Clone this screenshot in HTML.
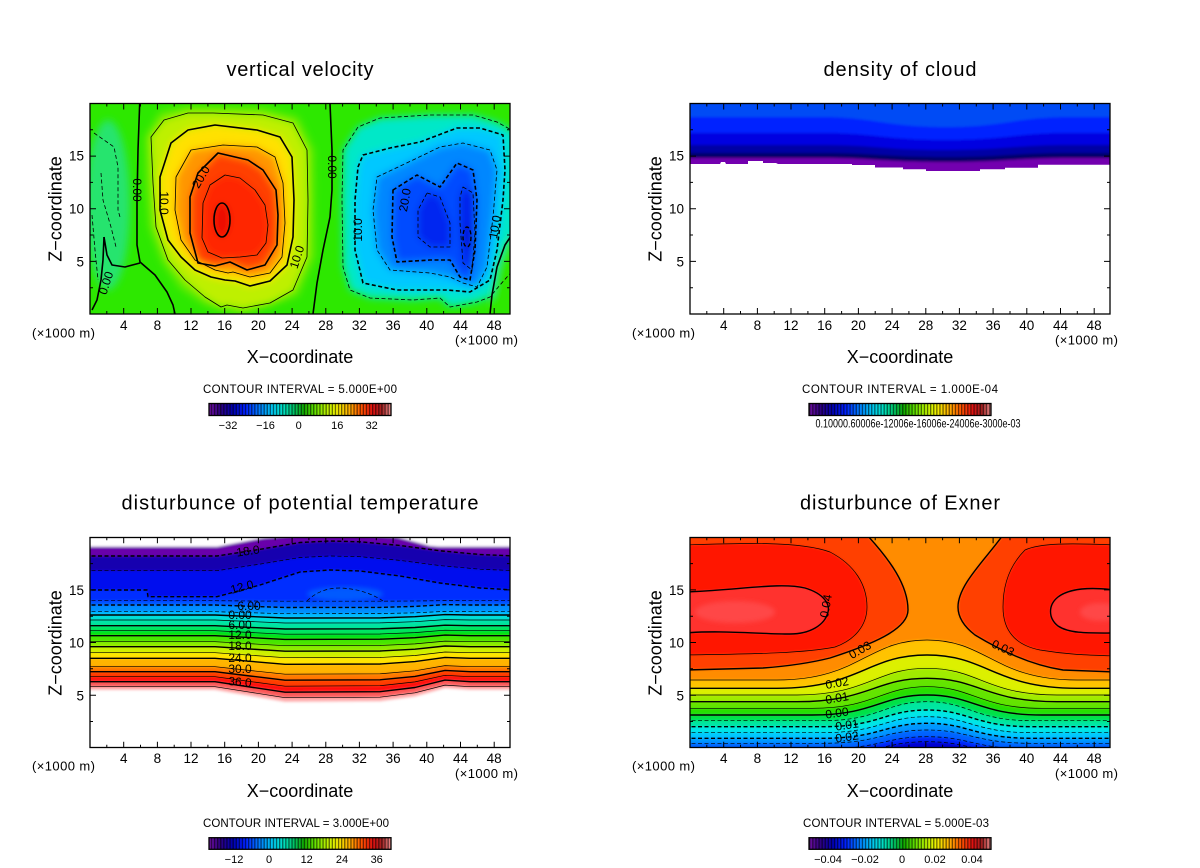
<!DOCTYPE html>
<html><head><meta charset="utf-8"><style>
html,body{margin:0;padding:0;background:#fff;}
svg{display:block;}
text{font-family:"Liberation Sans",sans-serif;fill:#000;}
.t{font-size:20px;text-anchor:middle;}
.ax{font-size:18px;text-anchor:middle;}
.tk{font-size:13.5px;text-anchor:middle;}
.ty{font-size:13.5px;text-anchor:end;}
.u{font-size:13px;}
.ci{font-size:11.5px;text-anchor:middle;}
.cb{font-size:11px;text-anchor:middle;}
.lb{font-size:12px;text-anchor:middle;}
</style></head><body>
<svg width="1200" height="868" viewBox="0 0 1200 868" xmlns="http://www.w3.org/2000/svg">
<defs>
<clipPath id="c1"><rect x="90" y="103.5" width="420" height="210.5"/></clipPath>
<clipPath id="c2"><rect x="690" y="103.5" width="420" height="210.5"/></clipPath>
<clipPath id="c3"><rect x="90" y="537.5" width="420" height="210"/></clipPath>
<clipPath id="c4"><rect x="690" y="537.5" width="420" height="210"/></clipPath>
<clipPath id="cc"><path d="M690,100 L1110,100 L1110,164.7 L1038,164.7 L1038,167.7 L1005,167.7 L1005,169.3 L980,169.3 L980,171 L926,171 L926,169.3 L903,169.3 L903,167.5 L875,167.5 L875,165 L852,165 L852,164 L778,164 L776,163 L763,163 L763,161 L748,161 L748,164 L726,164 L725,162 L721,162 L720,164 L690,164 Z"/></clipPath>
<filter id="b1" x="-20%" y="-20%" width="140%" height="140%"><feGaussianBlur stdDeviation="2.5"/></filter>
<filter id="b3" x="-20%" y="-20%" width="140%" height="140%"><feGaussianBlur stdDeviation="4"/></filter>
<filter id="b2" x="-5%" y="-5%" width="110%" height="110%"><feGaussianBlur stdDeviation="1.2"/></filter>
<linearGradient id="cbg" x1="0" y1="0" x2="1" y2="0">
<stop offset="0" stop-color="#7010a0"/><stop offset="0.06" stop-color="#300080"/><stop offset="0.13" stop-color="#0000b0"/><stop offset="0.2" stop-color="#0020ff"/><stop offset="0.28" stop-color="#0080ff"/><stop offset="0.35" stop-color="#00c8f0"/><stop offset="0.41" stop-color="#00e0c0"/><stop offset="0.47" stop-color="#00c060"/><stop offset="0.52" stop-color="#10a800"/><stop offset="0.58" stop-color="#60e000"/><stop offset="0.64" stop-color="#b0f000"/><stop offset="0.7" stop-color="#f0f000"/><stop offset="0.77" stop-color="#ffb000"/><stop offset="0.84" stop-color="#ff5000"/><stop offset="0.9" stop-color="#e01010"/><stop offset="0.95" stop-color="#a02020"/><stop offset="1" stop-color="#f09090"/>
</linearGradient>
<pattern id="str" width="3.1" height="20" patternUnits="userSpaceOnUse"><rect x="0" y="0" width="1.3" height="20" fill="#000" fill-opacity="0.55"/></pattern>
<g id="tk" fill="none" stroke="#000" stroke-width="1">
<path d="M33.7 210.5v-6M67.4 210.5v-6M101 210.5v-6M134.7 210.5v-6M168.4 210.5v-6M202.1 210.5v-6M235.8 210.5v-6M269.4 210.5v-6M303.1 210.5v-6M336.8 210.5v-6M370.5 210.5v-6M404.2 210.5v-6M16.8 210.5v-3M50.5 210.5v-3M84.2 210.5v-3M117.9 210.5v-3M151.6 210.5v-3M185.2 210.5v-3M218.9 210.5v-3M252.6 210.5v-3M286.3 210.5v-3M320 210.5v-3M353.6 210.5v-3M387.3 210.5v-3M33.7 0v6M67.4 0v6M101 0v6M134.7 0v6M168.4 0v6M202.1 0v6M235.8 0v6M269.4 0v6M303.1 0v6M336.8 0v6M370.5 0v6M404.2 0v6M16.8 0v3M50.5 0v3M84.2 0v3M117.9 0v3M151.6 0v3M185.2 0v3M218.9 0v3M252.6 0v3M286.3 0v3M320 0v3M353.6 0v3M387.3 0v3M0 157.9h6M0 105.2h6M0 52.6h6M0 184.2h3M0 131.5h3M0 78.9h3M0 26.3h3M420 157.9h-6M420 105.2h-6M420 52.6h-6M420 184.2h-3M420 131.5h-3M420 78.9h-3M420 26.3h-3"/>
</g>
<path id="W2" d="M160,112 L188,106 L263,108 L298,117 L314,150 L315,257 L298,296 L243,314 L205,305 L180,288 L162,262 L149,227 L146,183 L145,137 Z"/>
<path id="W5" d="M164,120 L188,113 L213,113 L263,115 L293,123 L307,150 L308,200 L307,257 L293,290 L270,303 L243,308 L227,305 L221,307 L205,297 L185,280 L168,260 L156,227 L153,183 L151,137 Z"/>
<path id="W10" d="M188,130 L215,125 L257,130 L280,137 L292,157 L294,200 L293,237 L287,265 L270,281 L250,286 L235,281 L225,280 L211,277 L195,270 L181,257 L168,240 L160,210 L160,177 L171,143 Z"/>
<path id="W15" d="M191,150 L223,145 L257,147 L275,157 L283,183 L285,223 L282,257 L270,273 L250,277 L233,272 L228,273 L215,270 L195,260 L181,240 L175,210 L176,177 Z"/>
<path id="W20" d="M218,153 L248,160 L263,170 L276,190 L278,215 L277,245 L265,265 L247,270 L230,262 L215,266 L198,263 L190,233 L190,197 L198,173 Z"/>
<path id="W25" d="M225,175 L240,178 L255,190 L265,205 L268,225 L266,243 L257,255 L240,257 L222,258 L208,252 L202,238 L203,203 L210,185 Z"/>
<path id="C5" d="M515,132 L497,122 L473,115 L430,115 L380,118 L358,127 L343,150 L342,200 L343,267 L350,290 L370,298 L413,300 L440,298 L450,307 L477,302 L490,297 L500,285 L515,268 L520,268 L520,132 Z"/>
<path id="C10" d="M363,155 L390,148 L420,142 L457,128 L480,128 L503,135 L505,170 L503,200 L497,250 L490,280 L470,292 L447,290 L397,290 L363,283 L355,250 L355,200 L358,167 Z"/>
<path id="C15" d="M377,177 L413,160 L440,147 L463,143 L490,150 L497,170 L493,217 L487,267 L477,287 L463,283 L450,277 L430,273 L390,270 L377,250 L373,210 Z"/>
<path id="C20" d="M393,190 L417,175 L440,187 L457,163 L473,170 L477,200 L475,250 L470,280 L460,277 L450,260 L430,260 L397,262 L392,237 Z"/>
<path id="C25a" d="M427,193 L440,197 L450,223 L450,247 L430,247 L418,237 L418,210 Z"/>
<path id="C25b" d="M463,187 L473,193 L475,233 L472,270 L463,263 L460,223 L460,197 Z"/>
<path id="k1" d="M685,117 L820,117 C875,117 885,127 945,127 C1005,127 1015,117 1070,117 L1115,117 L1115,95 L685,95 Z"/>
<path id="k2" d="M685,133 L820,133 C875,133 885,140 945,140 C1005,140 1015,133 1070,133 L1115,133 L1115,95 L685,95 Z"/>
<path id="k3" d="M685,145 L820,145 C875,145 885,150 945,150 C1005,150 1015,145 1070,145 L1115,145 L1115,95 L685,95 Z"/>
<path id="k4" d="M685,153 L820,153 C875,153 885,157 945,157 C1005,157 1015,153 1070,153 L1115,153 L1115,95 L685,95 Z"/>
<path id="k5" d="M685,158 L820,158 C875,158 885,162 945,162 C1005,162 1015,158 1070,158 L1115,158 L1115,95 L685,95 Z"/>
<path id="Lb" d="M85,690L215,690L250,696L285,702L380,701.4L415,696.6L445,688.2L470,690L515,690L515,530L85,530Z"/>
<path id="L39" d="M85,686.7L215,686.7L250,692.2L285,697.7L380,697.2L415,692.8L445,685.1L470,686.7L515,686.7L515,530L85,530Z"/>
<path id="L36" d="M85,681.7L215,681.7L250,687L285,692.2L380,691.7L415,687.5L445,680.1L470,681.7L515,681.7L515,530L85,530Z"/>
<path id="L33" d="M85,676.7L215,676.7L250,681.5L285,686.2L380,685.7L415,681.9L445,675.3L470,676.7L515,676.7L515,530L85,530Z"/>
<path id="L30" d="M85,671.7L215,671.7L250,676L285,680.2L380,679.8L415,676.4L445,670.4L470,671.7L515,671.7L515,530L85,530Z"/>
<path id="L27" d="M85,666.7L215,666.7L250,670.5L285,674.2L380,673.8L415,670.8L445,665.6L470,666.7L515,666.7L515,530L85,530Z"/>
<path id="L24" d="M85,658.3L215,658.3L250,661.3L285,664.3L380,664L415,661.6L445,657.4L470,658.3L515,658.3L515,530L85,530Z"/>
<path id="L21" d="M85,652.7L215,652.7L250,655.2L285,657.7L380,657.5L415,655.5L445,652L470,652.7L515,652.7L515,530L85,530Z"/>
<path id="L18" d="M85,646.7L215,646.7L250,649L285,651.2L380,651L415,649.2L445,646L470,646.7L515,646.7L515,530L85,530Z"/>
<path id="L15" d="M85,641.7L215,641.7L250,643.7L285,645.7L380,645.5L415,643.9L445,641.1L470,641.7L515,641.7L515,530L85,530Z"/>
<path id="L12" d="M85,635.7L215,635.7L250,637.6L285,639.4L380,639.2L415,637.7L445,635.1L470,635.7L515,635.7L515,530L85,530Z"/>
<path id="L9" d="M85,630.7L215,630.7L250,632.5L285,634.2L380,634L415,632.6L445,630.2L470,630.7L515,630.7L515,530L85,530Z"/>
<path id="L6" d="M85,625.7L215,625.7L250,627.4L285,629L380,628.8L415,627.5L445,625.2L470,625.7L515,625.7L515,530L85,530Z"/>
<path id="L3" d="M85,620L215,620L250,621.5L285,623L380,622.9L415,621.7L445,619.6L470,620L515,620L515,530L85,530Z"/>
<path id="L0" d="M85,615L215,615L250,616.5L285,618L380,617.9L415,616.7L445,614.6L470,615L515,615L515,530L85,530Z"/>
<path id="Lm3" d="M85,611.7L215,611.7L250,612.7L285,613.7L380,613.6L415,612.8L445,611.4L470,611.7L515,611.7L515,530L85,530Z"/>
<path id="Lm6" d="M85,605L215,605L250,606.3L285,607.5L380,607.4L415,606.4L445,604.6L470,605L515,605L515,530L85,530Z"/>
<path id="Lm9" d="M85,600.7L215,600.7L250,601L285,601.2L380,601.2L415,601L445,600.6L470,600.7L515,600.7L515,530L85,530Z"/>
<path id="Lm12" d="M85,590L147,590L148,596.7L217,596.7L260,585L300,572L330,570L360,571L400,576L440,583L480,588L515,590L515,530L85,530Z"/>
<path id="Lm15" d="M85,570.7L217,570.7L260,564.1L300,557.5L330,556L360,556.7L400,560.4L440,565.6L480,569.2L515,570.7L515,530L85,530Z"/>
<path id="Lm18" d="M85,556L217,556L260,549.3L300,542.5L330,541L360,541.8L400,545.5L440,550.8L480,554.5L515,556L515,530L85,530Z"/>
<path id="Ltop" d="M85,546.7L217,546.7L263,538L300,535L330,535L360,535L397,537L430,546L440,546.7L515,546.7L515,530L85,530Z"/>
<path id="e25" d="M685,680L777,680C859.5,680 867,640 927,640C987,640 994.5,680 1077,680L1115,680L1115,530L685,530Z"/>
<path id="e20" d="M685,688.3L777,688.3C859.5,688.3 867,655 927,655C987,655 994.5,688.3 1077,688.3L1115,688.3L1115,530L685,530Z"/>
<path id="e15" d="M685,695L797,695C868.5,695 875,668.3 927,668.3C979,668.3 985.5,695 1057,695L1115,695L1115,530L685,530Z"/>
<path id="e10" d="M685,701.7L797,701.7C868.5,701.7 875,678.3 927,678.3C979,678.3 985.5,701.7 1057,701.7L1115,701.7L1115,530L685,530Z"/>
<path id="e05" d="M685,708.3L812,708.3C875.3,708.3 881,686.7 927,686.7C973,686.7 978.8,708.3 1042,708.3L1115,708.3L1115,530L685,530Z"/>
<path id="e00" d="M685,715L812,715C875.3,715 881,695 927,695C973,695 978.8,715 1042,715L1115,715L1115,530L685,530Z"/>
<path id="em05" d="M685,720.7L822,720.7C879.8,720.7 885,701.7 927,701.7C969,701.7 974.3,720.7 1032,720.7L1115,720.7L1115,530L685,530Z"/>
<path id="em10" d="M685,726.7L822,726.7C879.8,726.7 885,710 927,710C969,710 974.3,726.7 1032,726.7L1115,726.7L1115,530L685,530Z"/>
<path id="em15" d="M685,732.7L822,732.7C879.8,732.7 885,716.7 927,716.7C969,716.7 974.3,732.7 1032,732.7L1115,732.7L1115,530L685,530Z"/>
<path id="em20" d="M685,738.3L822,738.3C879.8,738.3 885,723.3 927,723.3C969,723.3 974.3,738.3 1032,738.3L1115,738.3L1115,530L685,530Z"/>
<path id="em25" d="M685,743.3L822,743.3C879.8,743.3 885,730 927,730C969,730 974.3,743.3 1032,743.3L1115,743.3L1115,530L685,530Z"/>
<path id="em30" d="M685,749L822,749C879.8,749 885,736.7 927,736.7C969,736.7 974.3,749 1032,749L1115,749L1115,530L685,530Z"/>
<path id="em35" d="M685,754L822,754C879.8,754 885,741.7 927,741.7C969,741.7 974.3,754 1032,754L1115,754L1115,530L685,530Z"/>
<path id="s03L" d="M685,670 L763,668 C790,666 810,663 830,658 C870,645 908,630 908,610 C908,585 890,560 867,535 L685,535 Z"/>
<path id="s03R" d="M1115,672 L1063,670 C1030,665 1000,650 975,635 C962,625 958,615 958,607 C958,585 985,560 1003,535 L1115,535 Z"/>
<path id="s35L" d="M685,545 C740,543 800,541 830,552 C855,565 867,585 867,607 C867,625 855,640 835,647 C800,654 740,654 685,655 Z"/>
<path id="s35R" d="M1115,545 C1070,543 1040,543 1025,550 C1010,565 1003,585 1003,607 C1003,630 1015,645 1040,650 C1070,655 1090,655 1115,656 Z"/>
<path id="s04L" d="M685,592 C740,590 780,582 805,588 C825,594 830,605 828,612 C825,625 810,634 790,634 C760,634 720,630 685,633 Z"/>
<path id="s04R" d="M1115,590 C1090,587 1070,588 1058,597 C1048,605 1048,618 1058,626 C1070,634 1090,633 1115,633 Z"/>
</defs>

<rect width="1200" height="868" fill="#fff"/>

<!-- ===== PANEL 1 ===== -->
<g clip-path="url(#c1)">
<rect x="85" y="98" width="430" height="222" fill="rgb(45,232,0)"/>
<g filter="url(#b3)">
<ellipse cx="108" cy="205" rx="22" ry="85" fill="rgb(40,228,110)"/>
<use href="#W2" fill="rgb(105,236,0)"/>
<use href="#W5" fill="rgb(190,240,0)"/>
<use href="#W10" fill="rgb(255,225,0)"/>
<use href="#W15" fill="rgb(255,150,0)"/>
<use href="#W20" fill="rgb(255,65,0)"/>
<use href="#W25" fill="rgb(255,40,0)"/>
<ellipse cx="222" cy="220" rx="8" ry="17" fill="rgb(235,10,0)"/>
<use href="#C5" fill="rgb(0,232,200)"/>
<use href="#C10" fill="rgb(0,200,255)"/>
<use href="#C15" fill="rgb(0,135,255)"/>
<use href="#C20" fill="rgb(0,75,255)"/>
<use href="#C25a" fill="rgb(0,40,240)"/>
<use href="#C25b" fill="rgb(0,35,235)"/>
<ellipse cx="467" cy="237" rx="4" ry="10" fill="rgb(0,10,210)"/>
<path d="M490,320 L492,295 L497,267 L505,245 L512,235 L525,235 L525,320 Z" fill="rgb(45,232,0)"/>
</g>
<g fill="none" stroke="#000" stroke-linejoin="round">
<use href="#W5" stroke-width="0.8"/>
<use href="#W10" stroke-width="1.6"/>
<use href="#W15" stroke-width="0.8"/>
<use href="#W20" stroke-width="1.6"/>
<use href="#W25" stroke-width="0.8"/>
<ellipse cx="222" cy="220" rx="8" ry="17" stroke-width="1.6"/>
<g stroke-dasharray="4 2.5">
<use href="#C5" stroke-width="0.8"/>
<use href="#C10" stroke-width="1.6"/>
<use href="#C15" stroke-width="0.8"/>
<use href="#C20" stroke-width="1.6"/>
<use href="#C25a" stroke-width="0.8"/>
<use href="#C25b" stroke-width="0.8"/>
<ellipse cx="467" cy="237" rx="4" ry="10" stroke-width="1.4"/>
<path d="M94,133 L114,147 L118,167 L118,210 L120,217" stroke-width="0.8"/>
<path d="M101,173 L103,200 L111,227 L116,247" stroke-width="0.8"/>
<path d="M92,215 L95,250 L98,280" stroke-width="0.8"/>
</g>
<path d="M139.7,103.5 L138,150 L137,200 L137,245 L140,262 L155,275 L167,292 L173,305 L175,314" stroke-width="1.6"/>
<path d="M104,237 L107,255 L112,265 L125,267 L140,263" stroke-width="1.6"/>
<path d="M104,237 L103,260 L101,280 L97,300 L92,310" stroke-width="1.6"/>
<path d="M330,103.5 L332,150 L332,190 L330,217 L323,250 L317,283 L313,314" stroke-width="1.6"/>
<path d="M490,314 L492,295 L497,267 L505,245 L511,236" stroke-width="1.6"/>
</g>
<text class="lb" transform="translate(106,283) rotate(-72)" dy="4">0.00</text>
<text class="lb" transform="translate(137,190) rotate(90)" dy="4">0.00</text>
<text class="lb" transform="translate(164,203) rotate(90)" dy="4">10.0</text>
<text class="lb" transform="translate(201,177) rotate(-60)" dy="4">20.0</text>
<text class="lb" transform="translate(297,257) rotate(-72)" dy="4">10.0</text>
<text class="lb" transform="translate(332,167) rotate(90)" dy="4">0.00</text>
<text class="lb" transform="translate(358,230) rotate(-90)" dy="4">10.0</text>
<text class="lb" transform="translate(405,200) rotate(-80)" dy="4">20.0</text>
<text class="lb" transform="translate(495,227) rotate(-80)" dy="4">10.0</text>
</g>
<rect x="90" y="103.5" width="420" height="210.5" fill="none" stroke="#000" stroke-width="1.3"/>
<use href="#tk" x="90" y="103.5"/>

<!-- ===== PANEL 2 ===== -->
<g clip-path="url(#c2)">
<g clip-path="url(#cc)">
<g filter="url(#b2)">
<rect x="685" y="95" width="430" height="85" fill="rgb(115,0,175)"/>
<use href="#k5" fill="rgb(0,0,105)"/>
<use href="#k4" fill="rgb(0,0,165)"/>
<use href="#k3" fill="rgb(0,0,225)"/>
<use href="#k2" fill="rgb(0,35,255)"/>
<use href="#k1" fill="rgb(0,75,245)"/>
</g>
</g>
</g>
<rect x="690" y="103.5" width="420" height="210.5" fill="none" stroke="#000" stroke-width="1.3"/>
<use href="#tk" x="690" y="103.5"/>

<!-- ===== PANEL 3 ===== -->
<g clip-path="url(#c3)">
<g filter="url(#b2)">
<rect x="85" y="530" width="430" height="225" fill="#fff"/>
<use href="#Lb" fill="rgb(255,175,175)"/>
<use href="#L39" fill="rgb(250,90,90)"/>
<use href="#L36" fill="rgb(255,15,15)"/>
<use href="#L33" fill="rgb(255,60,0)"/>
<use href="#L30" fill="rgb(255,120,0)"/>
<use href="#L27" fill="rgb(255,180,0)"/>
<use href="#L24" fill="rgb(255,228,0)"/>
<use href="#L21" fill="rgb(205,240,0)"/>
<use href="#L18" fill="rgb(140,235,0)"/>
<use href="#L15" fill="rgb(70,230,0)"/>
<use href="#L12" fill="rgb(0,225,20)"/>
<use href="#L9" fill="rgb(0,228,95)"/>
<use href="#L6" fill="rgb(0,228,160)"/>
<use href="#L3" fill="rgb(0,222,215)"/>
<use href="#L0" fill="rgb(0,190,255)"/>
<use href="#Lm3" fill="rgb(0,140,255)"/>
<use href="#Lm6" fill="rgb(0,85,255)"/>
<use href="#Lm9" fill="rgb(0,45,255)"/>
<use href="#Lm12" fill="rgb(0,12,238)"/>
<use href="#Lm15" fill="rgb(25,0,175)"/>
<use href="#Lm18" fill="rgb(105,0,170)"/>
<use href="#Ltop" fill="#fff"/>
</g>
<ellipse cx="345" cy="594" rx="38" ry="7" fill="rgb(0,90,255)" filter="url(#b1)"/>
<g fill="none" stroke="#000" stroke-linejoin="round">
<use href="#L39" stroke-width="0.7"/>
<use href="#L36" stroke-width="1.4"/>
<use href="#L33" stroke-width="0.7"/>
<use href="#L30" stroke-width="1.4"/>
<use href="#L27" stroke-width="0.7"/>
<use href="#L24" stroke-width="1.4"/>
<use href="#L21" stroke-width="0.7"/>
<use href="#L18" stroke-width="1.4"/>
<use href="#L15" stroke-width="0.7"/>
<use href="#L12" stroke-width="1.4"/>
<use href="#L9" stroke-width="0.7"/>
<use href="#L6" stroke-width="1.4"/>
<use href="#L3" stroke-width="0.7"/>
<use href="#L0" stroke-width="1.4"/>
<g stroke-dasharray="4 2.5">
<use href="#Lm3" stroke-width="0.7"/>
<use href="#Lm6" stroke-width="1.4"/>
<use href="#Lm9" stroke-width="0.7"/>
<use href="#Lm12" stroke-width="1.4"/>
<use href="#Lm15" stroke-width="0.7"/>
<use href="#Lm18" stroke-width="1.4"/>
<path d="M307,601 Q320,588 340,588 Q365,589 383,601" stroke-width="0.7"/>
</g>
</g>
<text class="lb" transform="translate(248,551) rotate(-8)" dy="4">18.0</text>
<text class="lb" transform="translate(242,587) rotate(-15)" dy="4">12.0</text>
<text class="lb" x="249" y="606" dy="4">6.00</text>
<text class="lb" x="240" y="615" dy="4">0.00</text>
<text class="lb" x="240" y="625" dy="4">6.00</text>
<text class="lb" x="240" y="635" dy="4">12.0</text>
<text class="lb" x="240" y="646" dy="4">18.0</text>
<text class="lb" x="240" y="658" dy="4">24.0</text>
<text class="lb" x="240" y="669" dy="4">30.0</text>
<text class="lb" transform="translate(240,682) rotate(5)" dy="4">36.0</text>
</g>
<rect x="90" y="537.5" width="420" height="210" fill="none" stroke="#000" stroke-width="1.3"/>
<use href="#tk" x="90" y="537.3"/>

<!-- ===== PANEL 4 ===== -->
<g clip-path="url(#c4)">
<g filter="url(#b2)">
<rect x="680" y="530" width="440" height="225" fill="rgb(0,0,210)"/>
<use href="#em35" fill="rgb(0,40,250)"/>
<use href="#em30" fill="rgb(0,100,255)"/>
<use href="#em25" fill="rgb(0,150,255)"/>
<use href="#em20" fill="rgb(0,200,255)"/>
<use href="#em15" fill="rgb(0,230,230)"/>
<use href="#em10" fill="rgb(0,230,160)"/>
<use href="#em05" fill="rgb(0,225,70)"/>
<use href="#e00" fill="rgb(40,222,0)"/>
<use href="#e05" fill="rgb(100,228,0)"/>
<use href="#e10" fill="rgb(160,235,0)"/>
<use href="#e15" fill="rgb(220,240,0)"/>
<use href="#e20" fill="rgb(255,195,0)"/>
<use href="#e25" fill="rgb(255,140,0)"/>
<use href="#s03L" fill="rgb(255,65,0)"/>
<use href="#s03R" fill="rgb(255,65,0)"/>
<use href="#s35L" fill="rgb(255,25,5)"/>
<use href="#s35R" fill="rgb(255,25,5)"/>
<use href="#s04L" fill="rgb(255,50,45)"/>
<use href="#s04R" fill="rgb(255,50,45)"/>
</g>
<ellipse cx="735" cy="612" rx="40" ry="11" fill="rgb(255,70,70)" filter="url(#b1)"/>
<ellipse cx="1100" cy="612" rx="20" ry="9" fill="rgb(255,70,70)" filter="url(#b1)"/>
<g fill="none" stroke="#000" stroke-linejoin="round">
<use href="#e25" stroke-width="0.7"/>
<use href="#e20" stroke-width="1.4"/>
<use href="#e15" stroke-width="0.7"/>
<use href="#e10" stroke-width="1.4"/>
<use href="#e05" stroke-width="0.7"/>
<use href="#e00" stroke-width="1.4"/>
<use href="#s03L" stroke-width="1.4"/>
<use href="#s03R" stroke-width="1.4"/>
<use href="#s35L" stroke-width="0.7"/>
<use href="#s35R" stroke-width="0.7"/>
<use href="#s04L" stroke-width="1.4"/>
<use href="#s04R" stroke-width="1.4"/>
<g stroke-dasharray="4 2.5">
<use href="#em05" stroke-width="0.7"/>
<use href="#em10" stroke-width="1.4"/>
<use href="#em15" stroke-width="0.7"/>
<use href="#em20" stroke-width="1.4"/>
<use href="#em25" stroke-width="0.7"/>
<use href="#em30" stroke-width="0.7"/>
<use href="#em35" stroke-width="0.7"/>
</g>
</g>
<text class="lb" transform="translate(826,606) rotate(-80)" dy="4">0.04</text>
<text class="lb" transform="translate(860,650) rotate(-30)" dy="4">0.03</text>
<text class="lb" transform="translate(1003,648) rotate(25)" dy="4">0.03</text>
<text class="lb" transform="translate(837,683) rotate(-10)" dy="4">0.02</text>
<text class="lb" transform="translate(837,698) rotate(-10)" dy="4">0.01</text>
<text class="lb" transform="translate(837,713) rotate(-8)" dy="4">0.00</text>
<text class="lb" transform="translate(847,725) rotate(-8)" dy="4">0.01</text>
<text class="lb" transform="translate(847,737) rotate(-8)" dy="4">0.02</text>
</g>
<rect x="690" y="537.5" width="420" height="210" fill="none" stroke="#000" stroke-width="1.3"/>
<use href="#tk" x="690" y="537.3"/>

<!-- ===== TITLES / AXES ===== -->
<text class="t" x="300" y="76" textLength="147" lengthAdjust="spacing">vertical velocity</text>
<text class="t" x="900" y="76" textLength="153" lengthAdjust="spacing">density of cloud</text>
<text class="t" x="300" y="509.5" textLength="357" lengthAdjust="spacing">disturbunce of potential temperature</text>
<text class="t" x="900" y="509.5" textLength="200" lengthAdjust="spacing">disturbunce of Exner</text>

<text class="ax" transform="translate(61.5,209) rotate(-90)">Z−coordinate</text>
<text class="ax" transform="translate(661.5,209) rotate(-90)">Z−coordinate</text>
<text class="ax" transform="translate(61.5,643) rotate(-90)">Z−coordinate</text>
<text class="ax" transform="translate(661.5,643) rotate(-90)">Z−coordinate</text>
<text class="ax" x="300" y="363">X−coordinate</text>
<text class="ax" x="900" y="363">X−coordinate</text>
<text class="ax" x="300" y="797">X−coordinate</text>
<text class="ax" x="900" y="797">X−coordinate</text>

<text class="ty" x="84" y="160.7">15</text><text class="ty" x="84" y="213.7">10</text><text class="ty" x="84" y="266.4">5</text>
<text class="ty" x="684" y="160.7">15</text><text class="ty" x="684" y="213.7">10</text><text class="ty" x="684" y="266.4">5</text>
<text class="ty" x="84" y="595">15</text><text class="ty" x="84" y="647.7">10</text><text class="ty" x="84" y="700.4">5</text>
<text class="ty" x="684" y="595">15</text><text class="ty" x="684" y="647.7">10</text><text class="ty" x="684" y="700.4">5</text>

<text class="tk" x="123.7" y="330">4</text><text class="tk" x="157.4" y="330">8</text><text class="tk" x="191" y="330">12</text><text class="tk" x="224.7" y="330">16</text><text class="tk" x="258.4" y="330">20</text><text class="tk" x="292.1" y="330">24</text><text class="tk" x="325.8" y="330">28</text><text class="tk" x="359.4" y="330">32</text><text class="tk" x="393.1" y="330">36</text><text class="tk" x="426.8" y="330">40</text><text class="tk" x="460.5" y="330">44</text><text class="tk" x="494.2" y="330">48</text>
<text class="tk" x="723.7" y="330">4</text><text class="tk" x="757.4" y="330">8</text><text class="tk" x="791" y="330">12</text><text class="tk" x="824.7" y="330">16</text><text class="tk" x="858.4" y="330">20</text><text class="tk" x="892.1" y="330">24</text><text class="tk" x="925.8" y="330">28</text><text class="tk" x="959.4" y="330">32</text><text class="tk" x="993.1" y="330">36</text><text class="tk" x="1026.8" y="330">40</text><text class="tk" x="1060.5" y="330">44</text><text class="tk" x="1094.2" y="330">48</text>
<text class="tk" x="123.7" y="763">4</text><text class="tk" x="157.4" y="763">8</text><text class="tk" x="191" y="763">12</text><text class="tk" x="224.7" y="763">16</text><text class="tk" x="258.4" y="763">20</text><text class="tk" x="292.1" y="763">24</text><text class="tk" x="325.8" y="763">28</text><text class="tk" x="359.4" y="763">32</text><text class="tk" x="393.1" y="763">36</text><text class="tk" x="426.8" y="763">40</text><text class="tk" x="460.5" y="763">44</text><text class="tk" x="494.2" y="763">48</text>
<text class="tk" x="723.7" y="763">4</text><text class="tk" x="757.4" y="763">8</text><text class="tk" x="791" y="763">12</text><text class="tk" x="824.7" y="763">16</text><text class="tk" x="858.4" y="763">20</text><text class="tk" x="892.1" y="763">24</text><text class="tk" x="925.8" y="763">28</text><text class="tk" x="959.4" y="763">32</text><text class="tk" x="993.1" y="763">36</text><text class="tk" x="1026.8" y="763">40</text><text class="tk" x="1060.5" y="763">44</text><text class="tk" x="1094.2" y="763">48</text>

<text class="u" x="32" y="337.5" textLength="63" lengthAdjust="spacing">(×1000 m)</text>
<text class="u" x="455" y="344.5" textLength="63" lengthAdjust="spacing">(×1000 m)</text>
<text class="u" x="632" y="337.5" textLength="63" lengthAdjust="spacing">(×1000 m)</text>
<text class="u" x="1055" y="344.5" textLength="63" lengthAdjust="spacing">(×1000 m)</text>
<text class="u" x="32" y="770.5" textLength="63" lengthAdjust="spacing">(×1000 m)</text>
<text class="u" x="455" y="778" textLength="63" lengthAdjust="spacing">(×1000 m)</text>
<text class="u" x="632" y="770.5" textLength="63" lengthAdjust="spacing">(×1000 m)</text>
<text class="u" x="1055" y="778" textLength="63" lengthAdjust="spacing">(×1000 m)</text>

<text class="ci" x="300" y="393" textLength="194" lengthAdjust="spacing">CONTOUR INTERVAL = 5.000E+00</text>
<text class="ci" x="900" y="393" textLength="196" lengthAdjust="spacing">CONTOUR INTERVAL = 1.000E-04</text>
<text class="ci" x="296" y="827" textLength="186" lengthAdjust="spacing">CONTOUR INTERVAL = 3.000E+00</text>
<text class="ci" x="896" y="827" textLength="186" lengthAdjust="spacing">CONTOUR INTERVAL = 5.000E-03</text>

<g>
<rect x="209" y="403.5" width="182" height="12" fill="url(#cbg)"/><rect x="209" y="403.5" width="182" height="12" fill="url(#str)"/><rect x="209" y="403.5" width="182" height="12" fill="none" stroke="#000" stroke-width="1.3"/>
<rect x="809" y="403.5" width="182" height="12" fill="url(#cbg)"/><rect x="809" y="403.5" width="182" height="12" fill="url(#str)"/><rect x="809" y="403.5" width="182" height="12" fill="none" stroke="#000" stroke-width="1.3"/>
<rect x="209" y="837.7" width="182" height="11.6" fill="url(#cbg)"/><rect x="209" y="837.7" width="182" height="11.6" fill="url(#str)"/><rect x="209" y="837.7" width="182" height="11.6" fill="none" stroke="#000" stroke-width="1.3"/>
<rect x="809" y="837.7" width="182" height="11.6" fill="url(#cbg)"/><rect x="809" y="837.7" width="182" height="11.6" fill="url(#str)"/><rect x="809" y="837.7" width="182" height="11.6" fill="none" stroke="#000" stroke-width="1.3"/>
</g>
<text class="cb" x="228" y="429">−32</text><text class="cb" x="265.5" y="429">−16</text><text class="cb" x="298.7" y="429">0</text><text class="cb" x="337.3" y="429">16</text><text class="cb" x="371.7" y="429">32</text>
<text class="cb" x="918" y="427.5" textLength="205" lengthAdjust="spacingAndGlyphs" style="font-size:12px">0.10000.60006e-12006e-16006e-24006e-3000e-03</text>
<text class="cb" x="234" y="863">−12</text><text class="cb" x="269" y="863">0</text><text class="cb" x="306.7" y="863">12</text><text class="cb" x="342" y="863">24</text><text class="cb" x="376.7" y="863">36</text>
<text class="cb" x="828" y="863">−0.04</text><text class="cb" x="865" y="863">−0.02</text><text class="cb" x="902" y="863">0</text><text class="cb" x="935" y="863">0.02</text><text class="cb" x="972" y="863">0.04</text>
</svg>
</body></html>
